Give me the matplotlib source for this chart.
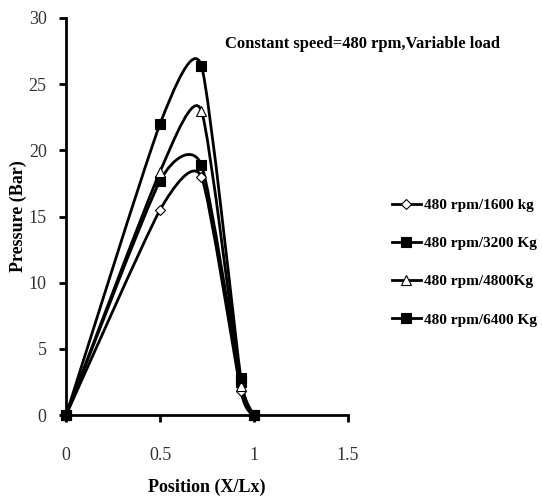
import numpy as np
import matplotlib.pyplot as plt
from matplotlib.path import Path
from matplotlib.patches import PathPatch
from matplotlib.lines import Line2D

plt.rcParams['font.family'] = ['Liberation Serif', 'DejaVu Serif']

x = [0, 0.5, 0.72, 0.93, 1.0]
p1600 = [0, 15.5, 18.0, 1.8, 0]
p3200 = [0, 17.7, 18.9, 2.5, 0]
p4800 = [0, 18.4, 23.0, 2.2, 0]
p6400 = [0, 22.0, 26.4, 2.8, 0]
labels = ['480 rpm/1600 kg', '480 rpm/3200 Kg', '480 rpm/4800Kg', '480 rpm/6400 Kg']


def smooth_path(xs, ys, k=0.1):
    # smoothed line like excel: bezier segments through the points
    pts = np.column_stack([xs, ys]).astype(float)
    n = len(pts)
    verts = [pts[0]]
    codes = [Path.MOVETO]
    for i in range(n - 1):
        p0 = pts[i - 1] if i > 0 else pts[i]
        p1 = pts[i]
        p2 = pts[i + 1]
        p3 = pts[i + 2] if i + 2 < n else pts[i + 1]
        c1 = p1 + (p2 - p0) * k
        c2 = p2 - (p3 - p1) * k
        verts += [c1, c2, p2]
        codes += [Path.CURVE4] * 3
    return Path(verts, codes)


fig = plt.figure(figsize=(5.42, 5.0), dpi=100)
ax = fig.add_axes([0.122, 0.17, 0.52, 0.794])

series = [
    (p1600, 'D', 'white', 5),
    (p3200, 's', 'black', 7),
    (p4800, '^', 'white', 7),
    (p6400, 's', 'black', 7),
]
handles = []
for (ys, m, fc, ms), lab in zip(series, labels):
    ax.add_patch(PathPatch(smooth_path(x, ys), fill=False, lw=2, ec='black', zorder=2))
    ax.plot(x, ys, ls='none', marker=m, ms=ms, mfc=fc, mec='black', mew=0.8, zorder=3, clip_on=False)
    handles.append(Line2D([], [], color='black', lw=2, marker=m, ms=ms, mfc=fc, mec='black', mew=0.8))

ax.set_xlim(0, 1.5)
ax.set_ylim(0, 30)
ax.set_xticks([0, 0.5, 1, 1.5])
ax.set_xticklabels(['0', '0.5', '1', '1.5'])
ax.set_yticks(range(0, 31, 5))
for s in ['top', 'right']:
    ax.spines[s].set_visible(False)
for s in ['left', 'bottom']:
    ax.spines[s].set_linewidth(2)
ax.tick_params(axis='both', width=2, length=5, labelsize=13, labelcolor='#333333')
ax.tick_params(axis='x', pad=18)
ax.tick_params(axis='y', pad=9)

ax.set_xlabel('Position (X/Lx)', fontsize=13, fontweight='bold')
ax.set_ylabel('Pressure (Bar)', fontsize=13, fontweight='bold')
ax.xaxis.set_label_coords(0.5, -0.16)
ax.yaxis.set_label_coords(-0.14, 0.5)

fig.text(0.415, 0.905, 'Constant speed=480 rpm,Variable load', fontsize=12, fontweight='bold')

fig.legend(handles=handles, labels=labels, loc='center left', bbox_to_anchor=(0.697, 0.475),
           frameon=False, handlelength=1.9, handletextpad=0.2, labelspacing=1.6,
           prop={'size': 11, 'weight': 'bold'})

fig.savefig('out.png', dpi=100)
